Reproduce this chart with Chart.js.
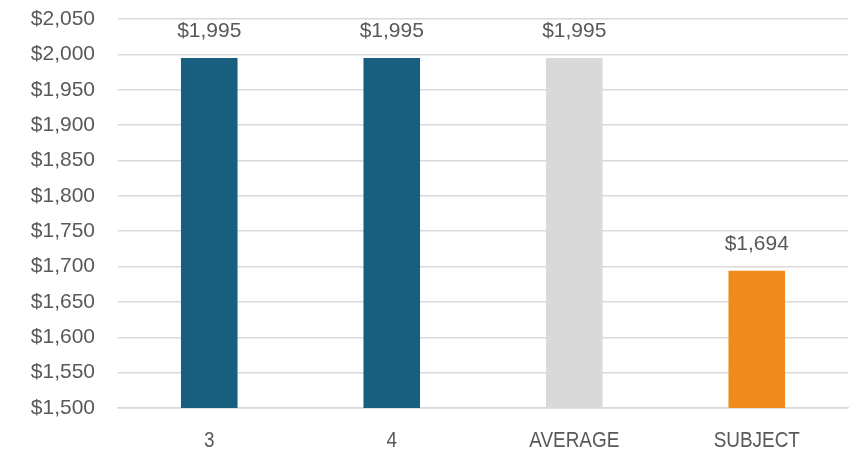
<!DOCTYPE html>
<html>
<head>
<meta charset="utf-8">
<script src="https://cdn.jsdelivr.net/npm/chart.js@4/dist/chart.umd.min.js"></script>
<style>
  html, body { margin: 0; padding: 0; background: #fff; }
  #wrap { width: 868px; height: 458px; }
</style>
</head>
<body>
<div id="wrap"><canvas id="chart" width="868" height="458"></canvas></div>
<script>
const categories = ['3', '4', 'AVERAGE', 'SUBJECT'];
const rents = [1995, 1995, 1995, 1694];
const barColors = ['#175e7f', '#175e7f', '#d9d9d9', '#f08c1e'];
const yMin = 1500, yMax = 2050, yStep = 50;

const textColor = '#595959';
const gridColor = '#d9d9d9';
const fontFamily = '"Liberation Sans", Arial, sans-serif';

const money = v => '$' + v.toLocaleString('en-US');

// value over each bar + narrow category labels under the axis
const labelsPlugin = {
  id: 'labelsPlugin',
  afterDatasetsDraw(chart) {
    const ctx = chart.ctx;
    const meta = chart.getDatasetMeta(0);
    const xScale = chart.scales.x;
    ctx.save();
    ctx.fillStyle = textColor;
    ctx.textAlign = 'center';
    ctx.textBaseline = 'alphabetic';
    ctx.font = '21px ' + fontFamily;
    meta.data.forEach((bar, i) => {
      ctx.fillText(money(rents[i]), bar.x, bar.y - 21);
    });
    ctx.font = '22px ' + fontFamily;
    categories.forEach((c, i) => {
      const x = xScale.getPixelForValue(i);
      ctx.save();
      ctx.translate(x, xScale.top + 39);
      ctx.scale(0.86, 1);
      ctx.fillText(c, 0, 0);
      ctx.restore();
    });
    ctx.restore();
  }
};

new Chart(document.getElementById('chart').getContext('2d'), {
  type: 'bar',
  data: {
    labels: categories,
    datasets: [{
      data: rents,
      backgroundColor: barColors,
      borderWidth: 0,
      categoryPercentage: 1,
      barPercentage: 0.31
    }]
  },
  options: {
    responsive: false,
    animation: false,
    layout: { padding: { top: 19, right: 20, bottom: 0, left: 0 } },
    plugins: { legend: { display: false }, tooltip: { enabled: false } },
    scales: {
      x: {
        grid: { display: false },
        border: { color: gridColor, width: 1.5 },
        ticks: { display: false },
        afterFit: s => { s.height = 50; s.paddingLeft = 0; s.paddingRight = 0; }
      },
      y: {
        min: yMin,
        max: yMax,
        grid: { color: gridColor, lineWidth: 1.5, drawTicks: false },
        border: { display: false },
        ticks: {
          stepSize: yStep,
          color: textColor,
          padding: 23,
          font: { family: fontFamily, size: 21 },
          callback: v => money(v)
        },
        afterFit: s => { s.width = 118; s.paddingTop = 0; s.paddingBottom = 0; }
      }
    }
  },
  plugins: [labelsPlugin]
});
</script>
</body>
</html>
